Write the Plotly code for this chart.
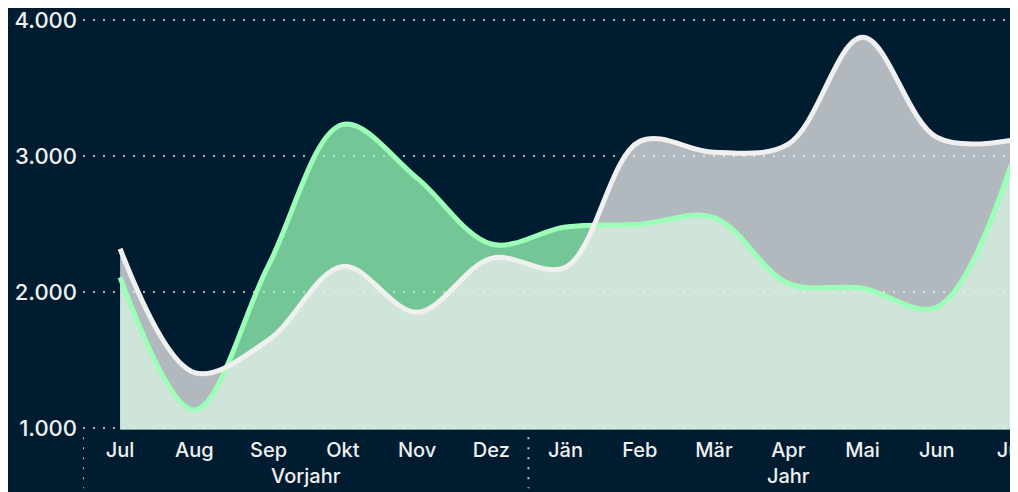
import plotly.graph_objs as go

# Data
groups = ['Vorjahr'] * 6 + ['Jahr'] * 7
# zero-width space keeps the second "Jul" a separate category
months = ['Jul', 'Aug', 'Sep', 'Okt', 'Nov', 'Dez',
          'Jän', 'Feb', 'Mär', 'Apr', 'Mai', 'Jun', 'Jul\u200b']
green_vals = [2110, 1135, 2200, 3235, 2840, 2355,
              2480, 2500, 2550, 2066, 2030, 1890, 2935]
white_vals = [2320, 1410, 1650, 2190, 1853, 2250,
              2185, 3110, 3030, 3090, 3875, 3140, 3118]
y_ticks = [1000, 2000, 3000, 4000]

bg = '#001c30'
green = '#9cffb8'
white = '#f0f0f0'
x = [groups, months]

data = [
    # fills first, so both lines sit on top of them
    go.Scatter(x=x, y=green_vals, mode='lines', fill='tozeroy',
               fillcolor='rgba(156,255,184,0.75)',
               line=dict(width=0, shape='spline', smoothing=1),
               hoverinfo='skip'),
    go.Scatter(x=x, y=white_vals, mode='lines', fill='tozeroy',
               fillcolor='rgba(240,240,240,0.74)',
               line=dict(width=0, shape='spline', smoothing=1),
               hoverinfo='skip'),
    go.Scatter(x=x, y=green_vals, mode='lines', name='Jahr',
               line=dict(color=green, width=5, shape='spline', smoothing=1)),
    go.Scatter(x=x, y=white_vals, mode='lines', name='Vorjahr',
               line=dict(color=white, width=5, shape='spline', smoothing=1)),
]

# dotted group dividers under the x axis
shapes = [dict(type='line', xref='x', yref='paper', x0=d, x1=d,
               y0=-0.003, y1=-0.125,
               line=dict(color='#c8ced4', width=2, dash='2px,8px'))
          for d in [-0.5, 5.5]]

layout = go.Layout(
    width=1018, height=492,
    paper_bgcolor=bg, plot_bgcolor=bg,
    margin=dict(l=75, r=15, t=11, b=64),
    showlegend=False,
    separators=',.',
    font=dict(family='Inter', size=20, color=white, weight=500),
    xaxis=dict(type='multicategory', range=[-0.5, 12], automargin=False,
               anchor='free', position=0,
               showgrid=False, zeroline=False, showline=False,
               showdividers=False, ticks=''),
    yaxis=dict(range=[990, 4010], domain=[0.0153, 1],
               tickvals=y_ticks, tickformat=',d', automargin=False,
               tickfont=dict(size=22), ticklabeloverflow='allow',
               showgrid=True, gridcolor='rgba(200,206,212,0.85)',
               gridwidth=2, griddash='2px,8px',
               zeroline=False, showline=False, ticklabelstandoff=5),
    shapes=shapes,
    hovermode='closest',
)

fig = go.Figure(data=data, layout=layout)
fig.write_html('out.html')
